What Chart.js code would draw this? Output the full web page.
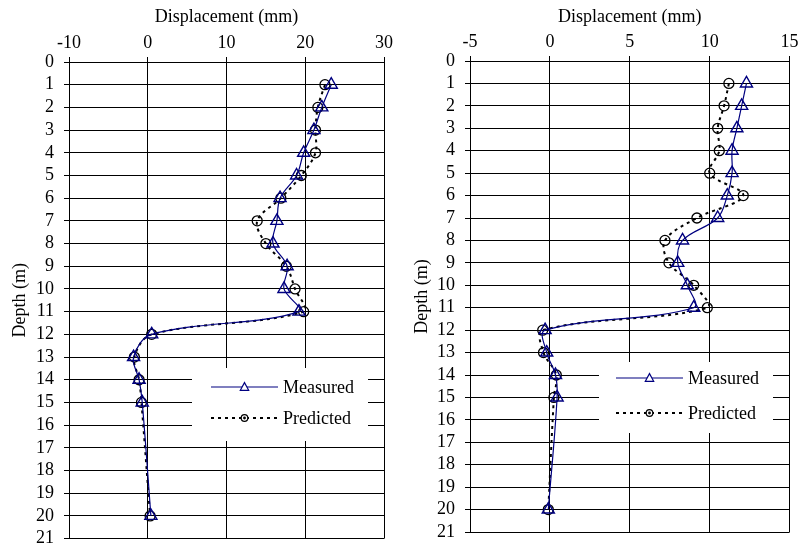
<!DOCTYPE html>
<html>
<head>
<meta charset="utf-8">
<script src="https://cdn.jsdelivr.net/npm/chart.js@4/dist/chart.umd.min.js"></script>
<style>
  html, body { margin: 0; padding: 0; background: #fff; }
  #wrap { position: relative; width: 798px; height: 547px; overflow: hidden; }
  .panel { position: absolute; top: 0; height: 547px; }
  #p1 { left: 0; width: 400px; }
  #p2 { left: 400px; width: 398px; }
</style>
</head>
<body>
<div id="wrap">
  <div class="panel" id="p1"><canvas id="c1" width="400" height="547"></canvas></div>
  <div class="panel" id="p2"><canvas id="c2" width="398" height="547"></canvas></div>
</div>
<script>
// Depth of each reading (m)
const depths = [1, 2, 3, 4, 5, 6, 7, 8, 9, 10, 11, 12, 13, 14, 15, 20];

// Left profile: lateral displacement (mm)
const leftMeasured  = [23.3, 22.1, 21.1, 19.8, 18.9, 16.8, 16.4, 15.9, 17.7, 17.3, 19.2, 0.5, -1.8, -1.1, -0.7, 0.4];
const leftPredicted = [22.5, 21.6, 21.3, 21.3, 19.5, 16.9, 13.9, 15.0, 17.6, 18.7, 19.8, 0.5, -1.7, -1.1, -0.8, 0.3];

// Right profile: lateral displacement (mm)
const rightMeasured  = [12.3, 12.0, 11.7, 11.4, 11.4, 11.1, 10.5, 8.3, 8.0, 8.6, 9.0, -0.3, -0.2, 0.35, 0.45, -0.1];
const rightPredicted = [11.2, 10.9, 10.5, 10.6, 10.0, 12.1, 9.2, 7.2, 7.45, 9.0, 9.85, -0.45, -0.4, 0.4, 0.25, -0.1];

// Axis tick values
const leftXTicks  = [-10, 0, 10, 20, 30];
const rightXTicks = [-5, 0, 5, 10, 15];
const depthTicks  = Array.from({ length: 22 }, (_, i) => i);

const seriesNames = ['Measured', 'Predicted'];

const FONT = 'Liberation Serif, "Times New Roman", serif';
const FSIZE = 18;
const NAVY = '#000080';

function pts(xs) {
  return xs.map((x, i) => ({ x: x, y: depths[i] }));
}

// Legend drawn inside the plot on a white panel
const insideLegend = {
  id: 'insideLegend',
  afterDatasetsDraw(chart, args, o) {
    const ctx = chart.ctx;
    ctx.save();
    ctx.fillStyle = '#ffffff';
    ctx.fillRect(o.box[0], o.box[1], o.box[2], o.box[3]);
    chart.data.datasets.forEach((ds, i) => {
      const y = o.rows[i];
      ctx.strokeStyle = ds.borderColor;
      ctx.lineWidth = ds.borderWidth;
      ctx.setLineDash(ds.borderDash || []);
      ctx.beginPath();
      ctx.moveTo(o.line[0], y);
      ctx.lineTo(o.line[1], y);
      ctx.stroke();
      ctx.setLineDash([]);
      ctx.strokeStyle = ds.pointBorderColor;
      ctx.lineWidth = 1.2;
      const mx = (o.line[0] + o.line[1]) / 2;
      ctx.beginPath();
      if (ds.pointStyle === 'triangle') {
        const r = 4.4;
        ctx.moveTo(mx, y - r);
        ctx.lineTo(mx + r * 0.95, y + r * 0.75);
        ctx.lineTo(mx - r * 0.95, y + r * 0.75);
        ctx.closePath();
        ctx.fillStyle = '#fff';
        ctx.fill();
      } else {
        ctx.arc(mx, y, 3.3, 0, Math.PI * 2);
        ctx.fillStyle = '#fff';
        ctx.fill();
        ctx.stroke();
        ctx.beginPath();
        ctx.arc(mx, y, 0.8, 0, Math.PI * 2);
        ctx.fillStyle = '#000';
        ctx.fill();
      }
      ctx.stroke();
      ctx.fillStyle = '#000';
      ctx.font = FSIZE + 'px ' + FONT;
      ctx.textBaseline = 'middle';
      ctx.textAlign = 'left';
      ctx.fillText(ds.label, o.textX, y + 1);
    });
    ctx.restore();
  }
};

function makeChart(id, measured, predicted, xTicks, geom) {
  const ctx = document.getElementById(id).getContext('2d');
  return new Chart(ctx, {
    type: 'scatter',
    data: {
      datasets: [
        {
          label: seriesNames[0],
          data: pts(measured),
          showLine: true,
          borderColor: NAVY,
          borderWidth: 1.2,
          tension: 0.35,
          pointStyle: 'triangle',
          pointRadius: 7,
          pointBorderWidth: 1.4,
          pointBorderColor: NAVY,
          pointBackgroundColor: 'rgba(0,0,0,0)'
        },
        {
          label: seriesNames[1],
          data: pts(predicted),
          showLine: true,
          borderColor: '#000000',
          borderWidth: 2,
          borderDash: [3, 4],
          tension: 0.35,
          pointStyle: 'circle',
          pointRadius: 5,
          pointBorderWidth: 1.3,
          pointBorderColor: '#000000',
          pointBackgroundColor: 'rgba(0,0,0,0)'
        }
      ]
    },
    options: {
      responsive: false,
      animation: false,
      devicePixelRatio: 1,
      layout: { padding: { left: 0, top: 0, right: geom.padRight, bottom: geom.padBottom } },
      plugins: {
        legend: { display: false },
        tooltip: { enabled: false },
        insideLegend: geom.legend
      },
      scales: {
        x: {
          type: 'linear',
          position: 'top',
          min: xTicks[0],
          max: xTicks[xTicks.length - 1],
          afterBuildTicks: (s) => { s.ticks = xTicks.map(v => ({ value: v })); },
          afterFit: (s) => { s.height = geom.xHeight; s.paddingLeft = 0; s.paddingRight = 0; },
          grid: { color: '#000', lineWidth: 1, tickLength: 5, tickColor: '#000' },
          border: { color: '#000', width: 1 },
          ticks: { color: '#000', font: { family: FONT, size: FSIZE }, padding: 3, maxRotation: 0, autoSkip: false },
          title: {
            display: true, text: 'Displacement (mm)', color: '#000',
            font: { family: FONT, size: FSIZE }, padding: { top: 6, bottom: 0 }
          }
        },
        y: {
          type: 'linear',
          reverse: true,
          min: 0,
          max: 21,
          afterBuildTicks: (s) => { s.ticks = depthTicks.map(v => ({ value: v })); },
          afterFit: (s) => { s.width = geom.yWidth; s.paddingTop = 0; s.paddingBottom = 0; },
          grid: { color: '#000', lineWidth: 1, tickLength: 5, tickColor: '#000' },
          border: { color: '#000', width: 1 },
          ticks: { color: '#000', font: { family: FONT, size: FSIZE }, padding: 10, autoSkip: false },
          title: {
            display: true, text: 'Depth (m)', color: '#000',
            font: { family: FONT, size: FSIZE }, padding: { top: geom.yTitlePad, bottom: 0 }
          }
        }
      }
    },
    plugins: [insideLegend]
  });
}

makeChart('c1', leftMeasured, leftPredicted, leftXTicks, {
  padRight: 16, padBottom: 7, xHeight: 62, yWidth: 69, yTitlePad: 9,
  legend: { box: [192, 368, 176, 73], rows: [387, 418], line: [211, 278], textX: 283 }
});

makeChart('c2', rightMeasured, rightPredicted, rightXTicks, {
  padRight: 6, padBottom: 15, xHeight: 61, yWidth: 70, yTitlePad: 11,
  legend: { box: [199, 362, 174, 71], rows: [378, 413], line: [216, 283], textX: 288 }
});
</script>
</body>
</html>
